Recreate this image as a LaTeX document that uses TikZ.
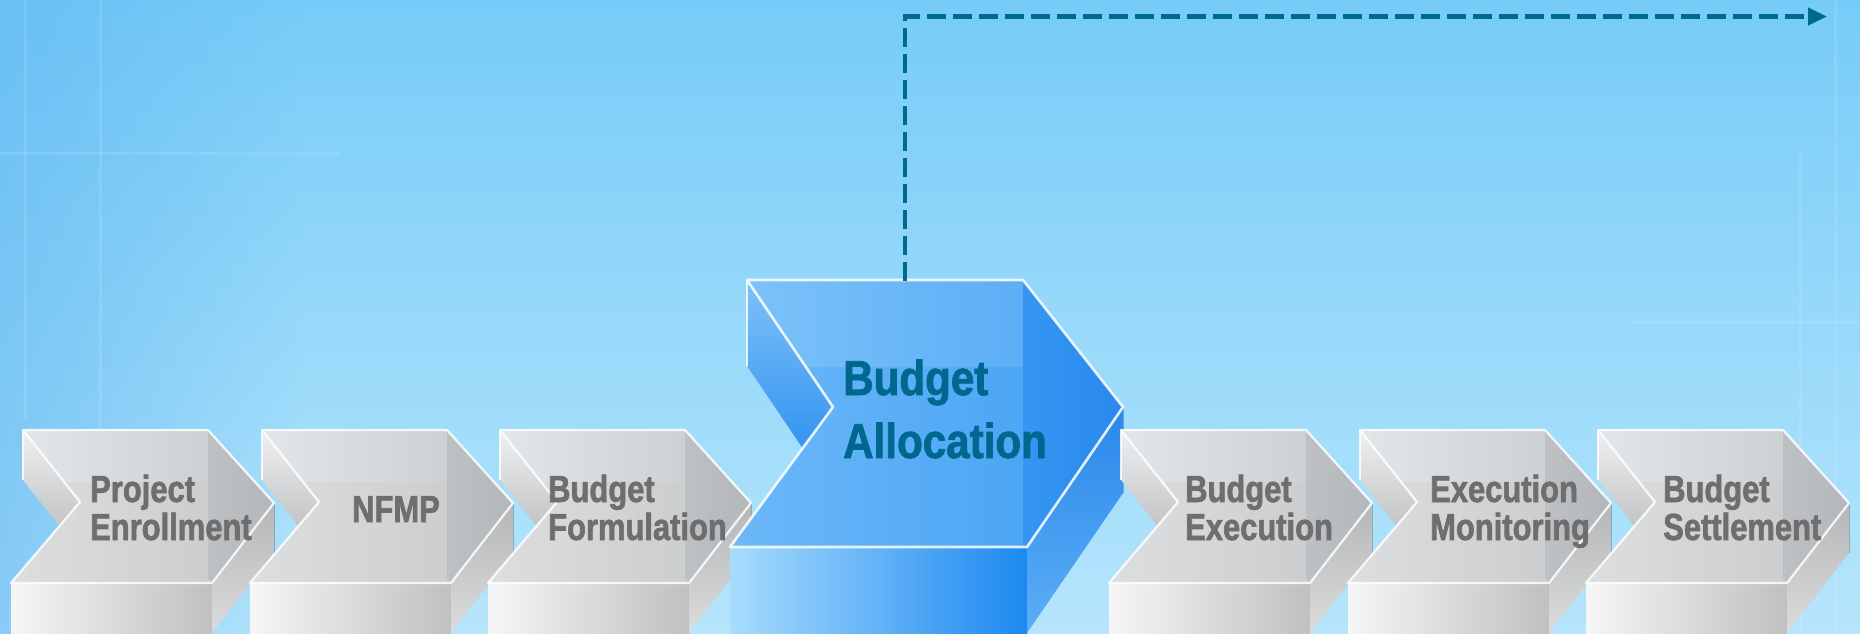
\documentclass[tikz,border=0pt]{standalone}
\usepackage{fontspec}
\newfontfamily\smallcond[FakeStretch=0.82,FakeBold=1.6]{Liberation Sans}
\newfontfamily\bigcond[FakeStretch=0.86,FakeBold=1.6]{Liberation Sans}
\usetikzlibrary{arrows.meta,fadings}
\definecolor{bgtop}{HTML}{76CCF8}
\definecolor{bgbot}{HTML}{B6E5FC}
\definecolor{bgdeep}{HTML}{5CB4F0}
\definecolor{txtgray}{HTML}{6E6E6E}
\definecolor{txtblue}{HTML}{00688E}
\definecolor{flowblue}{HTML}{006A8C}
% gray chevron colours
\definecolor{gnotchT}{HTML}{EEF0F2}
\definecolor{gnotchB}{HTML}{B6B8BA}
\definecolor{gfrontL}{HTML}{F6F6F6}
\definecolor{gfrontR}{HTML}{C0C0C0}
\definecolor{grightT}{HTML}{B4B6B8}
\definecolor{grightB}{HTML}{DCDCDC}
\definecolor{gtopL}{HTML}{DCDEE0}
\definecolor{gtopR}{HTML}{C6C8CA}
\definecolor{gstripL}{HTML}{E2E6E9}
\definecolor{gstripR}{HTML}{CDD1D4}
\definecolor{gbevL}{HTML}{BEC1C4}
\definecolor{gbevR}{HTML}{B4B7BA}
% blue chevron colours
\definecolor{bnotchT}{HTML}{7EC2F8}
\definecolor{bnotchB}{HTML}{2088EE}
\definecolor{bfrontL}{HTML}{A8DCFC}
\definecolor{bfrontR}{HTML}{1C88F0}
\definecolor{brightT}{HTML}{2A88EA}
\definecolor{brightB}{HTML}{5CAEF6}
\definecolor{btopL}{HTML}{6CB8F8}
\definecolor{btopR}{HTML}{42A0F4}
\definecolor{bstripL}{HTML}{7CC2F9}
\definecolor{bstripR}{HTML}{5CAEF6}
\definecolor{bbevL}{HTML}{3696F2}
\definecolor{bbevR}{HTML}{2888EE}
\tikzset{
  smalltxt/.style={font=\smallcond\bfseries\fontsize{37.7}{38}\selectfont, text=txtgray, align=left, inner sep=0pt},
  bigtxt/.style={font=\bigcond\bfseries\fontsize{49}{63}\selectfont, text=txtblue, align=left, inner sep=0pt},
  edgehi/.style={draw=white, line width=2.2pt, draw opacity=0.85, line join=round},
  edgedark/.style={draw=black, line width=1pt, draw opacity=0.22},
  bgline/.style={draw=white, line width=3pt, draw opacity=0.1},
  flow/.style={draw=flowblue, line width=4.3pt, dash pattern=on 19pt off 7pt, -{Triangle[length=19pt,width=17pt]}},
}
\newcommand\graychevron[1]{%
\begin{scope}[xshift=#1pt]
  \shade[top color=gnotchT, bottom color=gnotchB] (0,430) -- (57,502) -- (57,552) -- (0,480) -- cycle;
  \shade[left color=gfrontL, right color=gfrontR] (-12,583) -- (189,583) -- (189,633) -- (-12,633) -- cycle;
  \shade[top color=grightT, bottom color=grightB] (189,583) -- (251,503) -- (251,553) -- (189,633) -- cycle;
  \draw[edgedark] (251,503) -- (251,553);
  \shade[left color=gtopL, right color=gtopR] (0,430) -- (185,430) -- (251,503) -- (189,583) -- (-12,583) -- (57,502) -- cycle;
  \shade[left color=gstripL, right color=gstripR] (0,430) -- (185,430) -- (185,482) -- (41,482) -- cycle;
  \shade[left color=gbevL, right color=gbevR] (185,430) -- (251,503) -- (189,583) -- (185,578) -- cycle;
  \draw[edgehi] (0,430) -- (185,430) -- (251,503) -- (189,583) -- (-12,583) -- (57,502) -- cycle;
  \draw[edgehi, line width=1.2pt] (0,430) -- (0,480);
\end{scope}}
\begin{document}
\begin{tikzpicture}[x=1pt,y=-1pt]
\useasboundingbox (0,0) rectangle (1860,634);
% background
\shade[top color=bgtop, bottom color=bgbot] (0,0) rectangle (1860,634);
\fill[bgdeep, path fading=east, fill opacity=0.5] (0,0) rectangle (300,634);
\draw[bgline] (25,0) -- (25,420);
\draw[bgline] (100,0) -- (100,634);
\draw[bgline] (0,153) -- (340,153);
\draw[bgline] (1630,322) -- (1860,322);
\draw[bgline] (1800,150) -- (1800,634);
\draw[bgline] (1835,0) -- (1835,634);

% gray chevrons left
\graychevron{23}
\graychevron{262}
\graychevron{500}

% big chevron
\shade[top color=bnotchT, bottom color=bnotchB] (747,280) -- (833,407) -- (833,493) -- (747,366) -- cycle;
\shade[left color=bfrontL, right color=bfrontR] (730,547) -- (1027,547) -- (1027,633) -- (730,633) -- cycle;
\shade[top color=brightT, bottom color=brightB] (1027,547) -- (1123,407) -- (1123,493) -- (1027,633) -- cycle;
\draw[edgedark] (1123,407) -- (1123,493);
\shade[left color=btopL, right color=btopR] (747,280) -- (1023,280) -- (1123,407) -- (1027,547) -- (730,547) -- (833,407) -- cycle;
\shade[left color=bstripL, right color=bstripR] (747,280) -- (1023,280) -- (1023,367) -- (806,367) -- cycle;
\shade[left color=bbevL, right color=bbevR] (1023,280) -- (1123,407) -- (1027,547) -- (1023,547) -- cycle;
\draw[edgehi, line width=2.6pt] (747,280) -- (1023,280) -- (1123,407) -- (1027,547) -- (730,547) -- (833,407) -- cycle;
\draw[edgehi, line width=1.4pt] (747,280) -- (747,366);
\coordinate (alloctop) at (905,281);

% gray chevrons right
\graychevron{1121}
\graychevron{1360}
\graychevron{1598}

% labels (base anchor = baseline of the last line)
\node[smalltxt, anchor=base west] (enroll) at (90,540) {Project\\Enrollment};
\node[smalltxt, anchor=base] (nfmp) at (396,522) {NFMP};
\node[smalltxt, anchor=base west] (formul) at (548,540) {Budget\\Formulation};
\node[bigtxt, anchor=base west] (alloc) at (843,458) {Budget\\Allocation};
\node[smalltxt, anchor=base west] (exec) at (1185,540) {Budget\\Execution};
\node[smalltxt, anchor=base west] (monit) at (1430,540) {Execution\\Monitoring};
\node[smalltxt, anchor=base west] (settle) at (1663,540) {Budget\\Settlement};

% dashed connector
\coordinate (arrowend) at (1827,16.5);
\draw[flow] (alloctop) |- (arrowend);
\end{tikzpicture}
\end{document}
